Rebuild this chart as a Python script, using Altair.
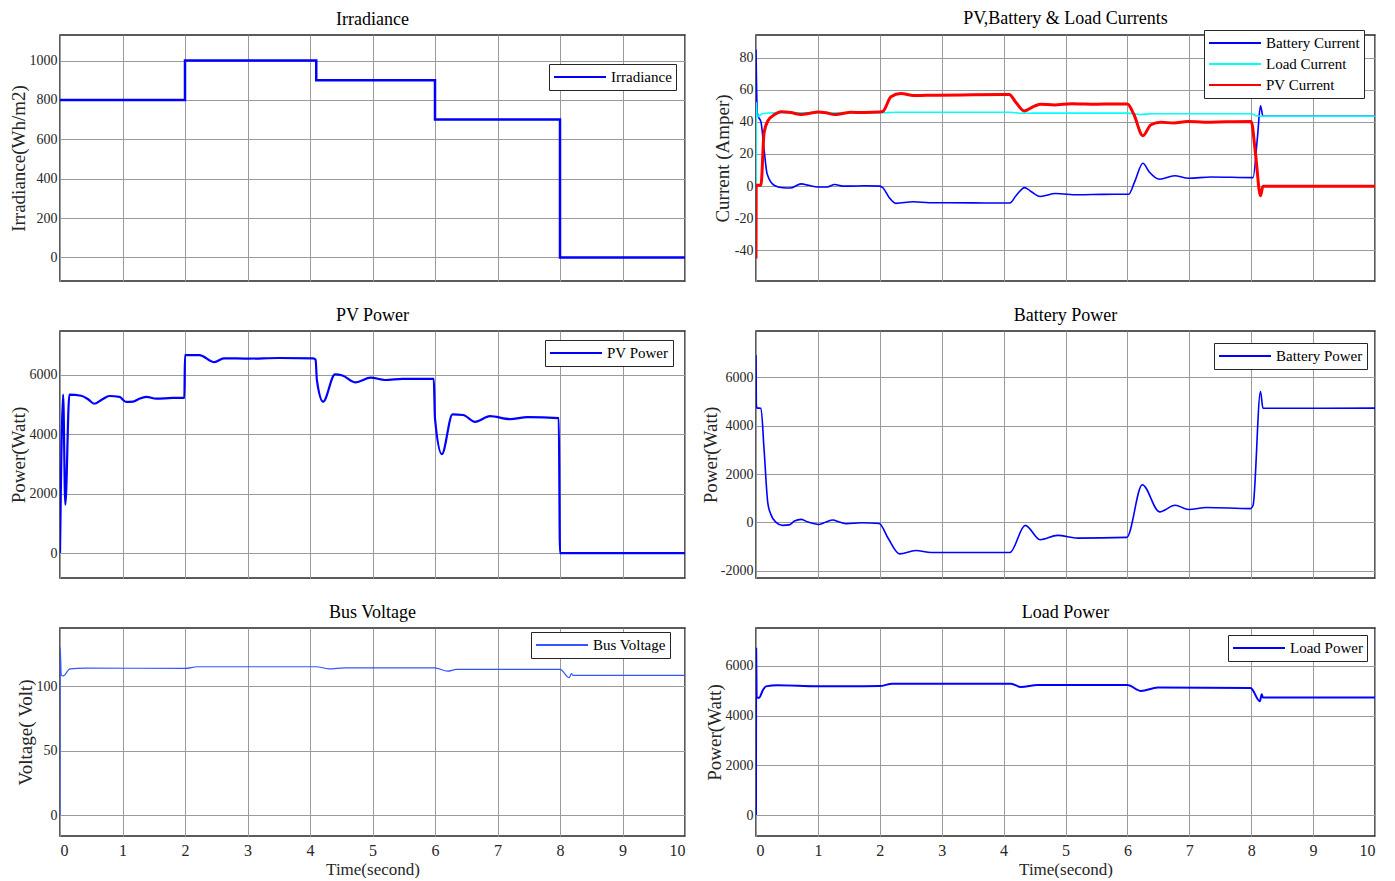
import altair as alt
import pandas as pd

# ---------------- data ----------------
irr_t = [0, 2, 2, 4.1, 4.1, 6, 6, 8, 8, 10]
irr_v = [800, 800, 1000, 1000, 900, 900, 700, 700, 0, 0]

bat_i_t = [0, 0.02, 0.03, 0.08, 0.13, 0.18, 0.3, 0.43, 0.55, 0.73, 0.85, 1.0, 1.15, 1.27, 1.4,
           1.53, 1.75, 2.0, 2.05, 2.15, 2.26, 2.54, 2.8, 3.5, 4.1, 4.2, 4.34, 4.45, 4.59, 4.84,
           5.2, 5.6, 6.02, 6.12, 6.25, 6.35, 6.52, 6.76, 6.99, 7.35, 8.03, 8.1, 8.15, 8.19, 8.3, 10]
bat_i_v = [85, 46, 44, 40, 23, 7.6, 0.4, -1, -1.2, 1.4, 0.5, -0.5, -0.5, 1, 0,
           0, 0.2, 0, -1, -7, -10.7, -9.7, -10.3, -10.4, -10.5, -6, -0.9, -3.5, -6.4, -4.6,
           -5.4, -5.1, -5.0, 3, 14.2, 9, 4.3, 6.5, 4.9, 5.7, 5.3, 30, 50, 43.5, 43.5, 43.5]

load_i_t = [0, 0.003, 0.02, 0.1, 0.3, 2.0, 2.3, 4.1, 4.3, 4.5, 6.0, 6.2, 6.4, 8.0, 8.1, 8.2, 10]
load_i_v = [2, 52, 43, 45, 45.6, 45.6, 46, 46, 45.3, 45.4, 45.4, 44.6, 45, 45, 43.6, 43.5, 43.5]

pv_i_t = [0, 0.003, 0.01, 0.08, 0.13, 0.19, 0.3, 0.4, 0.56, 0.73, 0.87, 1.0, 1.13, 1.27, 1.4,
          1.53, 1.75, 2.0, 2.05, 2.18, 2.34, 2.55, 2.75, 2.93, 3.5, 4.09, 4.2, 4.33, 4.5, 4.6,
          4.82, 5.1, 5.5, 6.0, 6.1, 6.25, 6.38, 6.54, 6.75, 6.97, 7.24, 7.6, 8.0, 8.07, 8.15,
          8.19, 8.25, 10]
pv_i_v = [-45, 0, 0.5, 0.5, 33, 40.5, 44.5, 46.3, 45.8, 44.5, 45.3, 46.1, 45.6, 44.5, 45.2,
          45.9, 45.8, 46.1, 46.5, 55.6, 57.6, 56.3, 56.5, 56.6, 56.8, 57.0, 52, 46.8, 49.8, 50.9,
          50.5, 51.3, 51.0, 51.1, 45, 31.4, 38.2, 39.8, 39.2, 40.2, 39.8, 40.0, 40.2, 20, -6,
          0, 0, 0]

pvp_t = [0, 0.05, 0.085, 0.15, 0.34, 0.45, 0.55, 0.68, 0.79, 0.95, 1.06, 1.17, 1.27, 1.38,
         1.54, 1.81, 1.99, 2.0, 2.23, 2.47, 2.62, 3.0, 3.5, 4.05, 4.09, 4.11, 4.21, 4.4, 4.52,
         4.73, 4.97, 5.2, 5.48, 5.98, 6.0, 6.11, 6.28, 6.45, 6.64, 6.88, 7.2, 7.48, 7.98, 8.0, 10]
pvp_v = [0, 5340, 1630, 5340, 5300, 5180, 5030, 5180, 5290, 5260, 5090, 5100, 5200, 5260,
         5200, 5225, 5225, 6670, 6670, 6430, 6560, 6550, 6570, 6560, 6510, 5830, 5100, 6020, 5980,
         5750, 5910, 5830, 5865, 5870, 4530, 3330, 4670, 4650, 4420, 4610, 4510, 4580, 4545, 0, 0]

batp_t = [0, 0.005, 0.016, 0.08, 0.13, 0.19, 0.24, 0.32, 0.43, 0.54, 0.62, 0.73, 0.84, 1.02,
          1.13, 1.24, 1.35, 1.46, 1.7, 1.99, 2.13, 2.32, 2.58, 2.83, 3.5, 4.1, 4.35, 4.59, 4.87,
          5.2, 5.99, 6.24, 6.52, 6.77, 6.99, 7.28, 7.99, 8.03, 8.15, 8.19, 10]
batp_v = [6900, 4900, 4720, 4715, 3030, 820, 335, 17, -120, -100, 60, 127, 17, -80,
          17, 100, 17, -50, -10, -40, -630, -1294, -1156, -1239, -1240, -1240, -118, -713, -533,
          -644, -616, 1557, 436, 713, 533, 616, 574, 700, 5405, 4713, 4720]

bus_t = [0, 0.003, 0.02, 0.05, 0.16, 0.4, 2.0, 2.2, 4.1, 4.3, 4.55, 6.0, 6.2, 6.34, 8.0,
         8.15, 8.18, 8.21, 10]
bus_v = [0, 130, 108.5, 108, 113.4, 114, 113.7, 115, 115, 113.4, 114.2, 114.2, 111.6, 112.9,
         112.9, 106.5, 109.8, 108.3, 108.3]

loadp_t = [0, 0.003, 0.01, 0.05, 0.11, 0.16, 0.35, 1.0, 2.0, 2.2, 4.12, 4.28, 4.55, 6.0, 6.22,
           6.49, 7.99, 8.14, 8.17, 8.19, 10]
loadp_v = [0, 6690, 4750, 4720, 5020, 5180, 5220, 5180, 5190, 5290, 5290, 5156, 5236, 5236, 4995,
           5130, 5110, 4580, 4860, 4727, 4727]

time_ticks = list(range(11))

FONT = "Liberation Serif"
INK = "#262626"
GRID = "#9a9a9a"


def make_df(name, ts, vs):
    return pd.DataFrame({"t": ts, "v": vs, "series": [name] * len(ts),
                         "i": list(range(len(ts)))})


def panel(series_list, colors, widths, title, ydom, yvals, ytitle, title_x, w, h,
          lx, ly, bottom=False, interp="monotone", title_offset=6):
    names = [s[0] for s in series_list]
    x_axis = alt.Axis(values=time_ticks, grid=True, labels=bottom, ticks=False, domain=False,
                      gridColor=GRID, gridWidth=1,
                      labelFont=FONT, labelFontSize=16, labelColor=INK, labelPadding=6,
                      labelExpr="datum.value",
                      titleFont=FONT, titleFontSize=17, titleFontWeight="normal",
                      titleColor=INK, titlePadding=3)
    y_axis = alt.Axis(values=yvals, grid=True, ticks=False, domain=False,
                      gridColor=GRID, gridWidth=1,
                      labelFont=FONT, labelFontSize=14, labelColor=INK, labelPadding=3,
                      labelExpr="datum.value",
                      titleFont=FONT, titleFontSize=19, titleFontWeight="normal",
                      titleColor=INK, titleX=title_x, titleY=h / 2,
                      titleBaseline="middle")
    legend = alt.Legend(orient="none", legendX=lx, legendY=ly, title=None,
                        symbolType="stroke", symbolSize=2704, symbolStrokeWidth=2,
                        clipHeight=18, labelOffset=4,
                        labelFont=FONT, labelFontSize=15, labelColor="black",
                        fillColor="white", strokeColor=INK, padding=4, rowPadding=3)
    layers = []
    for (name, ts, vs), wd in zip(series_list, widths):
        df = make_df(name, ts, vs)
        layers.append(
            alt.Chart(df).mark_line(clip=True, strokeWidth=wd, interpolate=interp).encode(
                x=alt.X("t:Q", scale=alt.Scale(domain=[0, 10], nice=False, zero=False),
                        axis=x_axis, title="Time(second)" if bottom else None),
                y=alt.Y("v:Q", scale=alt.Scale(domain=ydom, nice=False, zero=False),
                        axis=y_axis, title=ytitle),
                color=alt.Color("series:N", scale=alt.Scale(domain=names, range=colors),
                                legend=legend, sort=names),
                order=alt.Order("i:Q"),
            )
        )
    chart = alt.layer(*layers).properties(
        width=w, height=h,
        title=alt.TitleParams(title, font=FONT, fontSize=18, fontWeight="normal",
                              color="black", offset=title_offset, anchor="middle",
                              frame="group"),
    )
    return chart


WL, WR = 625, 619

p1 = panel([("Irradiance", irr_t, irr_v)], ["#0000ff"], [2.5], "Irradiance",
           [-120, 1130], [0, 200, 400, 600, 800, 1000], "Irradiance(Wh/m2)", -42,
           WL, 246, 489, 29, interp="linear")
p2 = panel([("Battery Current", bat_i_t, bat_i_v), ("Load Current", load_i_t, load_i_v),
            ("PV Current", pv_i_t, pv_i_v)],
           ["#0000ff", "#00ffff", "#ff0000"], [1.6, 1.6, 3], "PV,Battery & Load Currents",
           [-59, 94], [-40, -20, 0, 20, 40, 60, 80], "Current (Amper)", -34,
           WR, 246, 448, -5, title_offset=2)
p3 = panel([("PV Power", pvp_t, pvp_v)], ["#0000ff"], [2.2], "PV Power",
           [-840, 7480], [0, 2000, 4000, 6000], "Power(Watt)", -42,
           WL, 247, 485, 9)
p4 = panel([("Battery Power", batp_t, batp_v)], ["#0000ff"], [1.6], "Battery Power",
           [-2290, 7900], [-2000, 0, 2000, 4000, 6000], "Power(Watt)", -46,
           WR, 247, 458, 12)
p5 = panel([("Bus Voltage", bus_t, bus_v)], ["#3355ff"], [1.2], "Bus Voltage",
           [-16, 145], [0, 50, 100], "Voltage( Volt)", -35,
           WL, 208, 471, 4, bottom=True)
p6 = panel([("Load Power", loadp_t, loadp_v)], ["#0000ff"], [2], "Load Power",
           [-845, 7530], [0, 2000, 4000, 6000], "Power(Watt)", -42,
           WR, 208, 472, 7, bottom=True)

chart = alt.concat(p1, p2, p3, p4, p5, p6, columns=2,
                   spacing={"row": 50, "column": 71}, bounds="flush").resolve_scale(
    color="independent", x="independent", y="independent"
).properties(
    padding={"left": 0, "top": 0, "right": 5, "bottom": 0},
    background="white",
).configure_view(stroke=INK, strokeWidth=1.5)

chart.save("out.html", embed_options={"renderer": "svg", "actions": False})
